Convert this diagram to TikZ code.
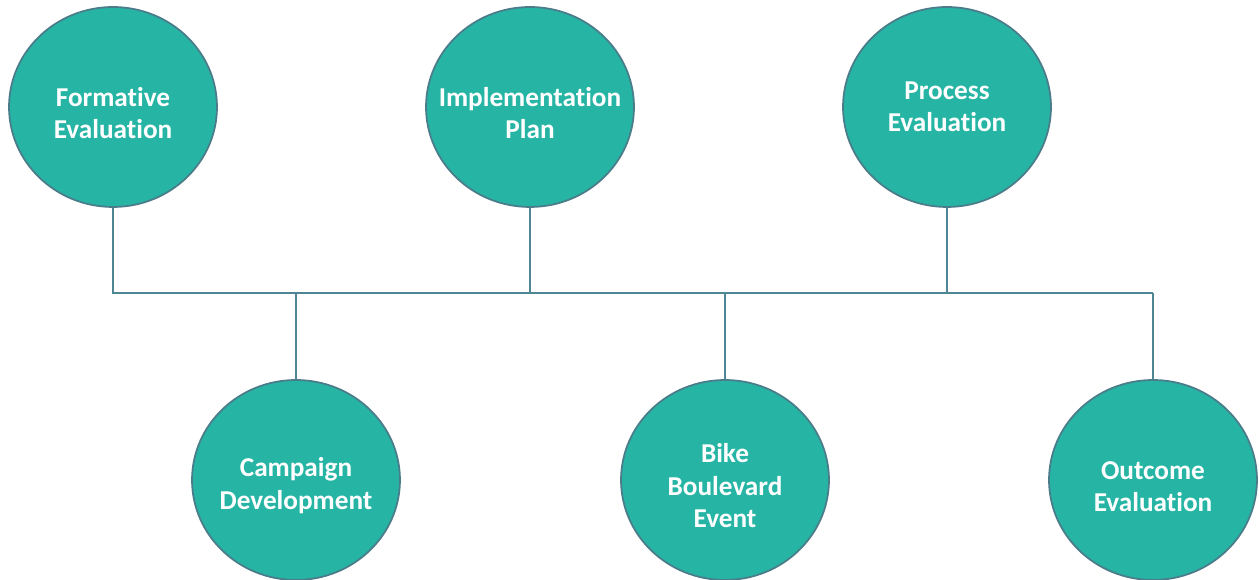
\documentclass[tikz,border=0pt]{standalone}
\usepackage{fontspec}
\setmainfont{Carlito}[Ligatures=NoCommon]
\usepackage{tikz}
\usetikzlibrary{shapes.geometric}

\definecolor{stepfill}{RGB}{38,181,164}
\definecolor{stepedge}{RGB}{74,124,138}
\definecolor{busline}{RGB}{78,134,148}
\newcommand{\padtop}{\rule{0pt}{17.5pt}}

\tikzset{
  stage/.style={ellipse, draw=stepedge, line width=1pt, fill=stepfill,
    minimum width=4.16cm, minimum height=4.0cm, inner xsep=-1cm, inner ysep=0pt,
    text=white, font=\bfseries\fontsize{15.5}{18.5}\selectfont, align=center},
  bus/.style={draw=busline, line width=1.2pt}
}

\begin{document}
\begin{tikzpicture}[x=0.02cm,y=-0.02cm]
    \useasboundingbox (0,0) rectangle (1259,580);
    % evaluation stages along the top
    \node[stage] (form) at (113,107) {\padtop Formative\\Evaluation};
    \node[stage] (impl) at (530,107) {\padtop Implementation\\Plan};
    \node[stage] (proc) at (947,107) {Process\\Evaluation};
    % activities along the bottom
    \node[stage] (camp) at (296,480) {\padtop Campaign\\Development};
    \node[stage] (bike) at (725,480) {\padtop Bike\\Boulevard\\Event};
    \node[stage] (outc) at (1153,480) {\padtop Outcome\\Evaluation};
    % the common line
    \coordinate (busR) at (1153,293);
    \draw[bus] (form.south) |- (busR);
    \draw[bus] (impl.south) -- (impl.south |- busR);
    \draw[bus] (proc.south) -- (proc.south |- busR);
    \draw[bus] (camp.north) -- (camp.north |- busR);
    \draw[bus] (bike.north) -- (bike.north |- busR);
    \draw[bus] (outc.north) -- (busR);
\end{tikzpicture}
\end{document}
